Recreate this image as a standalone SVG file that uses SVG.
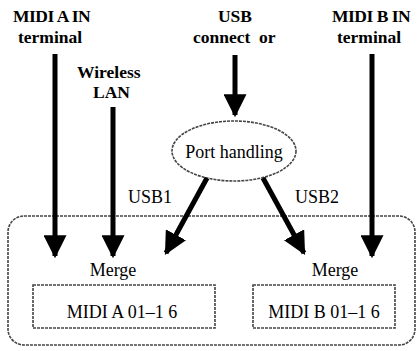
<svg xmlns="http://www.w3.org/2000/svg" width="418" height="351" viewBox="0 0 418 351">
<style>
text{font-family:'Liberation Serif','Times New Roman','DejaVu Serif',serif}
.b{font-weight:bold;font-size:17.5px;fill:#000}
.n{font-size:18px;fill:#000}
.ln{stroke:#000;stroke-width:5;fill:none}
.bd{stroke:#444;stroke-width:1.6;fill:none;stroke-dasharray:3 1}
</style>
<defs>
<marker id="ah" viewBox="0 0 10 10" refX="9" refY="5" markerWidth="4.6" markerHeight="4.6" markerUnits="strokeWidth" orient="auto">
<path d="M0,0 L10,5 L0,10 Z" fill="#000"/>
</marker>
</defs>
<rect id="container" class="bd" x="8" y="216" width="407" height="129" rx="16"/>
<g id="labels">
<text class="b" x="13" y="22" letter-spacing="-0.5">MIDI A IN</text>
<text class="b" x="18" y="43">terminal</text>
<text class="b" x="77" y="78">Wireless</text>
<text class="b" x="93" y="98">LAN</text>
<text class="b" x="235" y="22" text-anchor="middle">USB</text>
<text class="b" x="193" y="43" xml:space="preserve">connect  or</text>
<text class="b" x="332" y="22" letter-spacing="-0.5">MIDI B IN</text>
<text class="b" x="337" y="43">terminal</text>
<text class="n" x="128" y="203">USB1</text>
<text class="n" x="295" y="203">USB2</text>
</g>
<g id="port">
<ellipse class="bd" cx="234" cy="151" rx="62" ry="30"/>
<text class="n" x="234" y="158" text-anchor="middle">Port handling</text>
</g>
<g id="mergeA">
<text class="n" x="113" y="276" text-anchor="middle">Merge</text>
<rect class="bd" x="33" y="285" width="182" height="43"/>
<text class="n" x="122" y="318" text-anchor="middle">MIDI A 01–1 6</text>
</g>
<g id="mergeB">
<text class="n" x="335" y="276" text-anchor="middle">Merge</text>
<rect class="bd" x="253" y="285" width="142" height="43"/>
<text class="n" x="324" y="318" text-anchor="middle">MIDI B 01–1 6</text>
</g>
<g id="connectors">
<line class="ln" x1="55" y1="54" x2="55" y2="256" marker-end="url(#ah)"/>
<line class="ln" x1="113" y1="107" x2="113" y2="256" marker-end="url(#ah)"/>
<line class="ln" x1="235" y1="55" x2="235" y2="115" marker-end="url(#ah)"/>
<line class="ln" x1="372" y1="54" x2="372" y2="256" marker-end="url(#ah)"/>
<line class="ln" x1="207" y1="178" x2="166" y2="253" marker-end="url(#ah)"/>
<line class="ln" x1="263" y1="178" x2="304" y2="253" marker-end="url(#ah)"/>
</g>
</svg>
